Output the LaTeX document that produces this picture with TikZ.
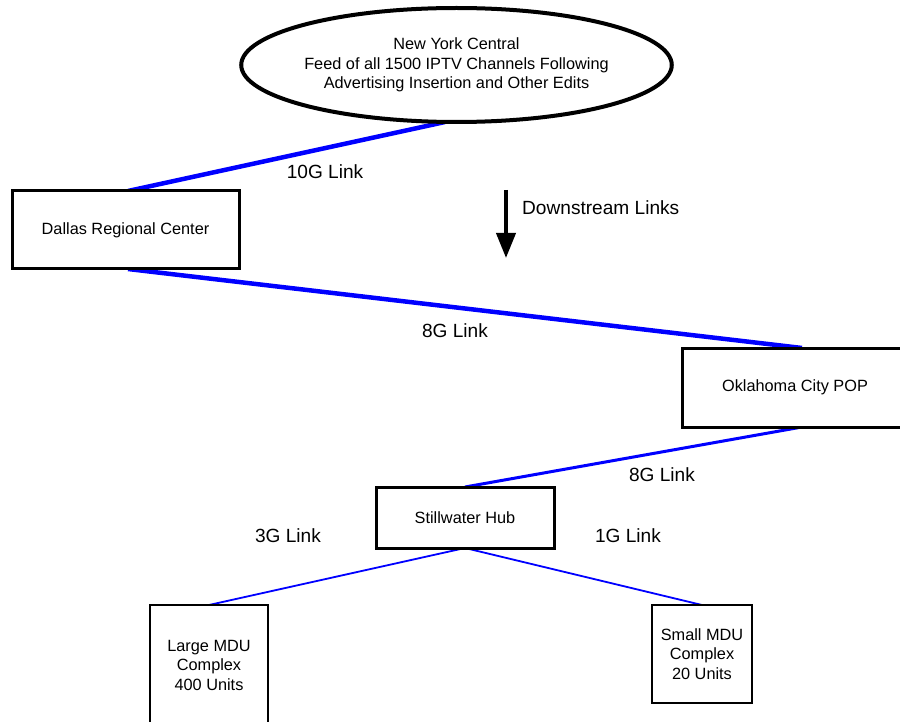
\documentclass[tikz,border=0pt]{standalone}
\usepackage{fontspec}
\setmainfont{Liberation Sans}
\usetikzlibrary{shapes.geometric,arrows.meta,calc}
\definecolor{linkblue}{RGB}{0,0,255}
\begin{document}
\begin{tikzpicture}[x=1pt,y=-1pt,
  site/.style={draw=black,line width=3pt,rectangle,fill=white,align=center,
    inner sep=0pt,font=\fontsize{16.3}{19.5}\selectfont},
  mdu/.style={site,line width=1.8pt},
  linklabel/.style={font=\fontsize{19.1}{22}\selectfont,inner sep=0pt},
  biglink/.style={draw=linkblue,line width=4.5pt},
  midlink/.style={draw=linkblue,line width=3pt},
  thinlink/.style={draw=linkblue,line width=1.8pt}]
\useasboundingbox (0,0) rectangle (900,722);
\clip (0,0) rectangle (900,722);

% links first so the boxes sit on top of their ends
\coordinate (nycfoot) at (445,122);
\coordinate (dalN) at (128,191);
\coordinate (dalS) at (128,269);
\coordinate (okcN) at (802,348);
\coordinate (okcS) at (802,427);
\coordinate (stwN) at (465,487);
\coordinate (stwS) at (465,548);
\coordinate (lgN) at (209,605);
\coordinate (smN) at (702,605);

\draw[biglink] (nycfoot) -- (dalN);
\draw[biglink] (dalS) -- (okcN);
\draw[midlink] (okcS) -- (stwN);
\draw[thinlink] (stwS) -- (lgN);
\draw[thinlink] (stwS) -- (smN);

% sites
\node[ellipse,draw=black,line width=4pt,fill=white,minimum width=367,minimum height=114,
  inner sep=0pt,align=center,font=\fontsize{16.3}{19.5}\selectfont] (nyc) at (456.5,65)
  {New York Central\\Feed of all 1500 IPTV Channels Following\\Advertising Insertion and Other Edits};
\node[site,minimum width=227,minimum height=78] (dallas) at (125.5,230) {Dallas Regional Center};
% this box runs past the right edge of the page
\node[site,minimum width=260,minimum height=79] (okc) at (812,387.5)
  {Oklahoma City POP\hspace*{34pt}};
\node[site,minimum width=178,minimum height=61] (stw) at (465,517.5) {Stillwater Hub};
\node[mdu,minimum width=118,minimum height=120] (large) at (209,665) {Large MDU\\Complex\\400 Units};
\node[mdu,minimum width=100,minimum height=98] (small) at (702,654) {Small MDU\\Complex\\20 Units};

% link labels
\node[linklabel] (l10) at (325,172) {10G Link};
\node[linklabel] (l8a) at (455,331) {8G Link};
\node[linklabel] (l8b) at (662,475) {8G Link};
\node[linklabel] (l3) at (288,536) {3G Link};
\node[linklabel] (l1) at (628,536) {1G Link};

% direction marker
\coordinate (arrtop) at (506,190);
\coordinate (arrtip) at (506,258);
\draw[line width=4pt,-{Triangle[length=25pt,width=19pt]}] (arrtop) -- (arrtip);
\node[linklabel,anchor=west] (dslabel) at (522,208) {Downstream Links};
\end{tikzpicture}
\end{document}
